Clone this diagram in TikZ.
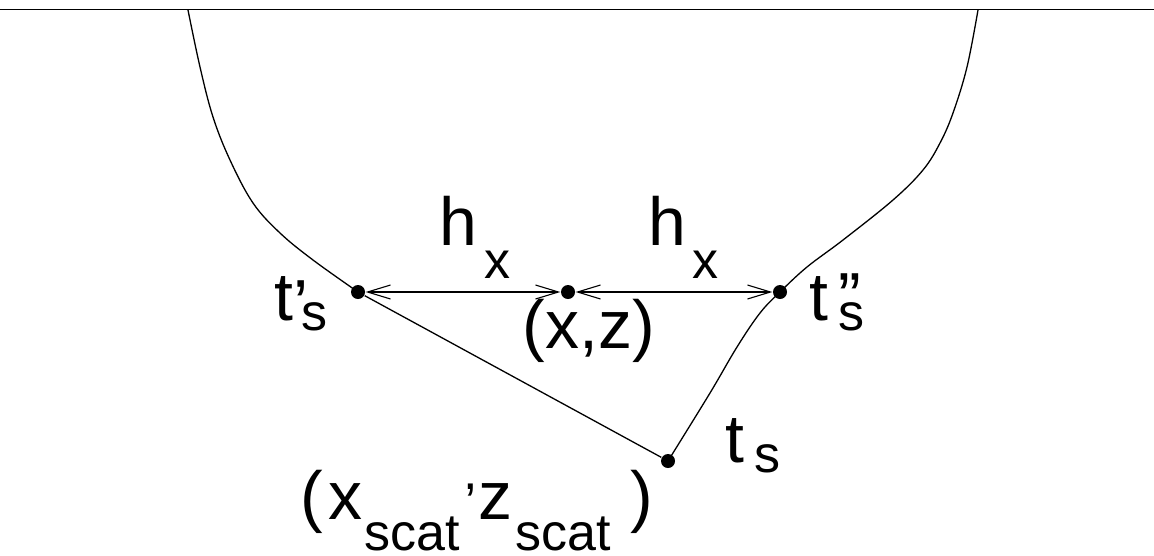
\documentclass[tikz,border=0pt]{standalone}
\usepackage{fontspec}
\setmainfont{Liberation Sans}
\usetikzlibrary{arrows.meta}
\newcommand\mainsz{\fontsize{68}{80}\selectfont}
\newcommand\subsz{\fontsize{52}{60}\selectfont}
\begin{document}
\begin{tikzpicture}[x=1pt,y=-1pt,line width=1.3pt,
  dotnode/.style={circle,fill=black,inner sep=0pt,minimum size=14pt},
  lbl/.style={anchor=base west,inner sep=0pt,font=\mainsz},
  dbl/.style={{Straight Barb[length=23pt,width=14pt,line width=1.1pt]}-{Straight Barb[length=23pt,width=14pt,line width=1.1pt]},line width=1.1pt}]
\useasboundingbox (0,0) rectangle (1154,555);
% surface
\coordinate (sl) at (0,9.5);
\coordinate (sr) at (1154,9.5);
\draw (sl) -- (sr);
% points
\node[dotnode] (tl) at (358,292) {};
\node[dotnode] (xz) at (568,292) {};
\node[dotnode] (tr) at (780,292) {};
\node[dotnode] (sc) at (668,461) {};
% curves
\draw plot[smooth,tension=0.6] coordinates {(188,10) (200,67) (213,117) (230,160) (253,203) (280,233) (313,260) (358,292)};
\draw plot[smooth,tension=0.6] coordinates {(978,10) (967,67) (953,113) (940,143) (923,170) (893,200) (843,240) (807,267) (780,292) (760,313) (737,347) (710,393) (668,461)};
\draw (tl) -- (sc);
% arrows
\draw[dbl] (tl) -- (xz);
\draw[dbl] (xz) -- (tr);
% labels
\node[lbl] (hx1) at (438.5,245) {h\hspace{8pt}\raisebox{-33pt}{\subsz x}};
\node[lbl] (hx2) at (648,245) {h\hspace{6pt}\raisebox{-33pt}{\subsz x}};
\node[lbl] (ltl) at (274,320) {t\rlap{\raisebox{-7pt}{’}}\hspace{8pt}\raisebox{-10pt}{\subsz s}};
\node[lbl] (ltr) at (809,320) {t\hspace{10pt}\rlap{”}\raisebox{-10pt}{\subsz s}};
\node[lbl] (lts) at (725,462) {t\hspace{9.5pt}\raisebox{-10pt}{\subsz s}};
\node[lbl] (lxz) at (522,348) {(x,z)};
\node[lbl] (lsc) at (300,519) {(\hspace{5pt}x\hspace{2pt}\raisebox{-31pt}{\subsz scat}\hspace{4pt}\raisebox{30pt}{\subsz ,}z\hspace{3pt}\raisebox{-31pt}{\subsz scat}\hspace{20pt})};
\end{tikzpicture}
\end{document}
